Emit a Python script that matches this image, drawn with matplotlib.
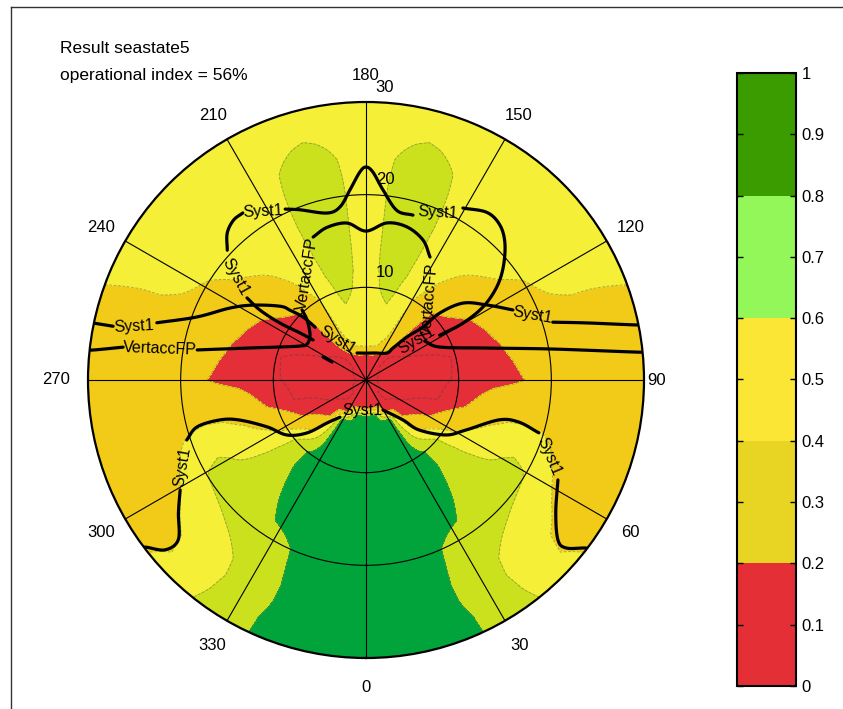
import numpy as np
import matplotlib
matplotlib.use("Agg")
import matplotlib.pyplot as plt
from matplotlib.colors import ListedColormap, BoundaryNorm
from matplotlib.cm import ScalarMappable
from matplotlib.lines import Line2D
from matplotlib import transforms

plt.rcParams['font.family'] = ['Liberation Sans', 'DejaVu Sans']

# ---------------- data ----------------
title_lines = ["Result seastate5", "operational index = 56%"]

headings = [0, 15, 30, 45, 60, 75, 90, 105, 120, 135, 150, 165, 180]          # deg (starboard half, mirrored)
speeds = [0, 2, 3, 4, 5, 6, 8, 10, 12, 14, 16, 18, 20, 22, 24, 26, 28, 30]     # knots

op_index = [
    [0.12, 0.14, 0.17, 0.88, 0.90, 0.90, 0.92, 0.92, 0.92, 0.92, 0.92, 0.92, 0.92, 0.92, 0.92, 0.92, 0.92, 0.92],  # 0
    [0.12, 0.13, 0.16, 0.84, 0.90, 0.90, 0.92, 0.92, 0.92, 0.92, 0.92, 0.92, 0.92, 0.92, 0.92, 0.91, 0.90, 0.88],  # 15
    [0.12, 0.12, 0.15, 0.19, 0.88, 0.90, 0.90, 0.90, 0.88, 0.86, 0.84, 0.82, 0.72, 0.70, 0.68, 0.70, 0.74, 0.76],  # 30
    [0.12, 0.098, 0.099, 0.13, 0.17, 0.24, 0.45, 0.74, 0.76, 0.75, 0.74, 0.72, 0.66, 0.58, 0.50, 0.44, 0.43, 0.48],  # 45
    [0.12, 0.098, 0.09, 0.095, 0.11, 0.14, 0.21, 0.34, 0.45, 0.52, 0.57, 0.64, 0.59, 0.44, 0.37, 0.32, 0.30, 0.30],  # 60
    [0.12, 0.09, 0.08, 0.08, 0.08, 0.085, 0.098, 0.16, 0.23, 0.33, 0.38, 0.39, 0.37, 0.33, 0.30, 0.30, 0.30, 0.30],  # 75
    [0.12, 0.085, 0.075, 0.07, 0.07, 0.07, 0.085, 0.11, 0.14, 0.16, 0.18, 0.215, 0.27, 0.30, 0.30, 0.30, 0.30, 0.30],  # 90
    [0.12, 0.09, 0.08, 0.075, 0.075, 0.075, 0.085, 0.105, 0.15, 0.18, 0.22, 0.28, 0.30, 0.30, 0.30, 0.31, 0.33, 0.35],  # 105
    [0.12, 0.095, 0.09, 0.092, 0.10, 0.11, 0.13, 0.15, 0.18, 0.22, 0.28, 0.34, 0.38, 0.45, 0.50, 0.50, 0.50, 0.50],  # 120
    [0.12, 0.10, 0.098, 0.105, 0.12, 0.14, 0.17, 0.195, 0.26, 0.34, 0.40, 0.47, 0.50, 0.50, 0.50, 0.50, 0.50, 0.50],  # 135
    [0.12, 0.14, 0.17, 0.27, 0.36, 0.38, 0.39, 0.41, 0.47, 0.50, 0.52, 0.53, 0.53, 0.53, 0.53, 0.52, 0.50, 0.50],  # 150
    [0.12, 0.15, 0.22, 0.45, 0.50, 0.52, 0.58, 0.66, 0.70, 0.71, 0.71, 0.71, 0.71, 0.70, 0.68, 0.62, 0.54, 0.50],  # 165
    [0.12, 0.15, 0.22, 0.50, 0.51, 0.52, 0.52, 0.52, 0.52, 0.52, 0.52, 0.52, 0.52, 0.52, 0.52, 0.52, 0.52, 0.52],  # 180
]

fill_levels = [0.0, 0.1, 0.2, 0.4, 0.6, 0.8, 1.0]
fill_colors = ['#e42f38', '#e42f38', '#f2ca18', '#f5ef38', '#cbe11e', '#00a43b']

cbar_bounds = [0.0, 0.2, 0.4, 0.6, 0.8, 1.0]
cbar_colors = ['#e52f36', '#e8d523', '#fbe535', '#93f75a', '#3b9c00']
cbar_ticks = [0, 0.1, 0.2, 0.3, 0.4, 0.5, 0.6, 0.7, 0.8, 0.9, 1.0]
cbar_ticklabels = ['0', '0.1', '0.2', '0.3', '0.4', '0.5', '0.6', '0.7', '0.8', '0.9', '1']

angle_ticks = [0, 30, 60, 90, 120, 150, 180, 210, 240, 270, 300, 330]
angle_label_radius = [33.2, 33.1, 33.0, 31.4, 33.0, 33.0, 32.9, 33.0, 33.0, 33.5, 33.0, 33.1]
radial_ticks = [10, 20, 30]

# limit lines (heading deg, speed kn), split where the inline labels sit
syst1_pieces = [
    [(307.1, 30.5), (307.1, 29.9), (310.2, 28.4), (310.4, 26.6), (305.3, 24.8), (300.6, 23.3)],
    [(288.5, 20.4), (285.5, 18.9), (285.3, 16.3), (287.6, 14.3), (295.4, 11.8), (304.8, 10.4),
     (311.9, 8.55), (317.8, 6.26), (325.0, 4.9)],
    [(29.5, 3.72), (42.8, 5.88), (46.7, 7.86), (55.5, 10.47), (63.4, 12.06), (73.3, 14.98),
     (74.6, 17.1), (73.0, 19.5)],
    [(62.5, 23.35), (55.0, 25.0), (50.2, 26.96), (50.0, 28.2), (52.6, 29.86), (52.8, 30.5)],
    [(258.2, 30.5), (258.2, 30.1), (258.0, 27.9)],
    [(254.7, 23.4), (249.6, 19.5), (242.1, 16.6), (236.4, 14.6), (229.3, 12.2), (227.4, 11.1),
     (225.0, 9.6), (223.9, 7.9)],
    [(198.4, 3.07), (180.0, 2.9), (161.6, 3.07), (142.1, 3.69), (139.8, 4.52), (136.4, 6.41),
     (132.9, 8.4), (132.2, 10.77), (128.4, 13.36), (121.8, 15.36), (115.5, 17.56)],
    [(107.2, 21.1), (104.5, 24.6), (101.5, 29.8), (101.4, 30.5)],
    [(121.3, 9.3), (120.4, 12.1), (122.0, 14.9), (125.4, 17.3), (129.5, 19.2), (134.6, 21.05),
     (139.2, 22.1), (144.2, 22.3), (150.6, 21.3)],
    [(164.1, 18.5), (169.7, 18.6), (174.9, 20.6), (178.1, 22.45), (180.0, 22.98), (181.7, 22.45),
     (184.8, 20.6), (188.5, 18.9), (193.1, 18.5), (201.2, 19.7), (205.3, 20.4)],
    [(216.4, 22.4), (219.7, 22.4), (223.4, 21.8), (226.9, 20.5)],
    [(235.4, 15.6), (236.6, 13.7), (236.5, 11.13), (234.5, 8.74), (232.9, 7.16)],
]
syst1_labels = [(295.4, 21.9, 80), (67.2, 21.4, -67), (352.6, 3.37, 0), (256.9, 25.7, 3),
                (111.3, 19.3, -10), (211.4, 21.3, 3), (156.8, 19.7, -3), (231.6, 17.9, -61),
                (216.0, 5.33, -32), (128.1, 7.0, 31)]

vert_pieces = [
    [(263.75, 30.5), (263.75, 29.7), (262.3, 26.45)],
    [(259.9, 18.5), (255.0, 13.3), (249.0, 9.94), (242.7, 8.0), (238.6, 7.45), (231.2, 7.75),
     (224.5, 9.08), (222.4, 10.23)],
    [(200.3, 16.45), (194.3, 17.0), (186.9, 17.06), (180.0, 16.07), (172.4, 17.1), (165.0, 17.1),
     (157.8, 16.3), (152.5, 14.96)],
    [(123.5, 7.6), (114.0, 8.74), (104.8, 13.5), (99.4, 20.45), (95.8, 29.7), (95.8, 30.5)],
    [(241.9, 5.26), (242.1, 4.15)],
]
vert_labels = [(261.4, 22.5, -2), (208.8, 13.1, 81), (141.3, 11.05, 85)]


def smooth_polar(piece, n=12):
    """Catmull-Rom rendering of a traced polyline (drawn in x/y, returned as theta/r)."""
    th = np.deg2rad([p[0] for p in piece])
    r = np.array([p[1] for p in piece], float)
    P = np.column_stack([r * np.sin(th), r * np.cos(th)])
    if len(P) < 3:
        return np.unwrap(th), r
    ext = np.vstack([2 * P[0] - P[1], P, 2 * P[-1] - P[-2]])
    out = []
    for i in range(1, len(ext) - 2):
        p0, p1, p2, p3 = ext[i - 1], ext[i], ext[i + 1], ext[i + 2]
        for t in np.linspace(0, 1, n, endpoint=False):
            t2, t3 = t * t, t * t * t
            out.append(0.5 * ((2 * p1) + (-p0 + p2) * t + (2 * p0 - 5 * p1 + 4 * p2 - p3) * t2
                              + (-p0 + 3 * p1 - 3 * p2 + p3) * t3))
    out.append(P[-1])
    out = np.array(out)
    return np.unwrap(np.arctan2(out[:, 0], out[:, 1])), np.hypot(out[:, 0], out[:, 1])


# ---------------- figure ----------------
W, H = 843, 709
fig = plt.figure(figsize=(W / 100, H / 100), dpi=100)

fig.add_artist(Line2D([10.5 / W, 10.5 / W], [0, 1 - 7 / H], color='#333333', lw=1.0))
fig.add_artist(Line2D([10.5 / W, 1.0], [1 - 7 / H, 1 - 7 / H], color='#333333', lw=1.0))

fig.text(60 / W, 1 - 53 / H, title_lines[0], fontsize=12.5, va='baseline', ha='left')
fig.text(60 / W, 1 - 80 / H, title_lines[1], fontsize=12.5, va='baseline', ha='left')

ax = fig.add_axes([88 / W, (H - 658) / H, 556 / W, 556 / H], projection='polar')
ax.set_theta_zero_location('S')
ax.set_theta_direction(1)

h = np.array(headings, float)
Z = np.array(op_index, float)
h_full = np.concatenate([h, 360 - h[-2::-1]])
Z_full = np.vstack([Z, Z[-2::-1]])
th_f = np.arange(0, 360.5, 1.0)
r_f = np.linspace(0, 30, 121)
Zr = np.array([np.interp(r_f, speeds, row) for row in Z_full])
Zf = np.array([np.interp(th_f, h_full, Zr[:, j]) for j in range(len(r_f))]).T
TH, RR = np.meshgrid(np.deg2rad(th_f), r_f, indexing='ij')

ax.contourf(TH, RR, Zf, levels=fill_levels, colors=fill_colors, zorder=1)
ax.contour(TH, RR, Zf, levels=[0.2, 0.4, 0.6, 0.8], colors='#8c8c3c', linewidths=0.7,
           linestyles=[(0, (3, 1.5))], alpha=0.7, zorder=1.2)
ax.contour(TH, RR, Zf, levels=[0.1], colors='#a8303e', linewidths=0.9,
           linestyles=[(0, (3, 1.5))], alpha=0.9, zorder=1.2)

for piece in syst1_pieces + vert_pieces:
    t, r = smooth_polar(piece)
    ax.plot(t, r, color='black', lw=2.3, solid_capstyle='round', solid_joinstyle='round', zorder=2)

for (t, r, rot) in syst1_labels:
    ax.text(np.deg2rad(t), r, 'Syst1', fontsize=11.5, rotation=rot, ha='center', va='center',
            rotation_mode='anchor', zorder=3)
for (t, r, rot) in vert_labels:
    ax.text(np.deg2rad(t), r, 'VertaccFP', fontsize=11.5, rotation=rot, ha='center', va='center',
            rotation_mode='anchor', zorder=3)

ax.set_ylim(0, 30)
ax.set_xticks(np.deg2rad(angle_ticks))
ax.set_xticklabels([])
ax.set_yticks([10, 20])
ax.set_yticklabels([])
ax.set_axisbelow(False)
ax.grid(True, color='black', lw=0.8)
ax.spines['polar'].set_linewidth(1.6)

for a, rl in zip(angle_ticks, angle_label_radius):
    ax.text(np.deg2rad(a), rl, str(a), fontsize=12, ha='center', va='center', clip_on=False)

off = transforms.offset_copy(ax.transData, fig=fig, x=19, y=15, units='dots')
for rv in radial_ticks:
    ax.text(np.pi, rv, str(rv), transform=off, fontsize=12, ha='center', va='center', clip_on=False)

cax = fig.add_axes([737 / W, 23 / H, 59 / W, 613 / H])
sm = ScalarMappable(norm=BoundaryNorm(cbar_bounds, len(cbar_colors)), cmap=ListedColormap(cbar_colors))
cb = fig.colorbar(sm, cax=cax, ticks=cbar_ticks)
cb.ax.set_yticklabels(cbar_ticklabels)
cax.minorticks_off()
cax.tick_params(direction='in', left=True, right=True, length=4, width=1, labelsize=12, pad=4)
cb.outline.set_linewidth(1.5)

fig.savefig('out.png', dpi=100)
